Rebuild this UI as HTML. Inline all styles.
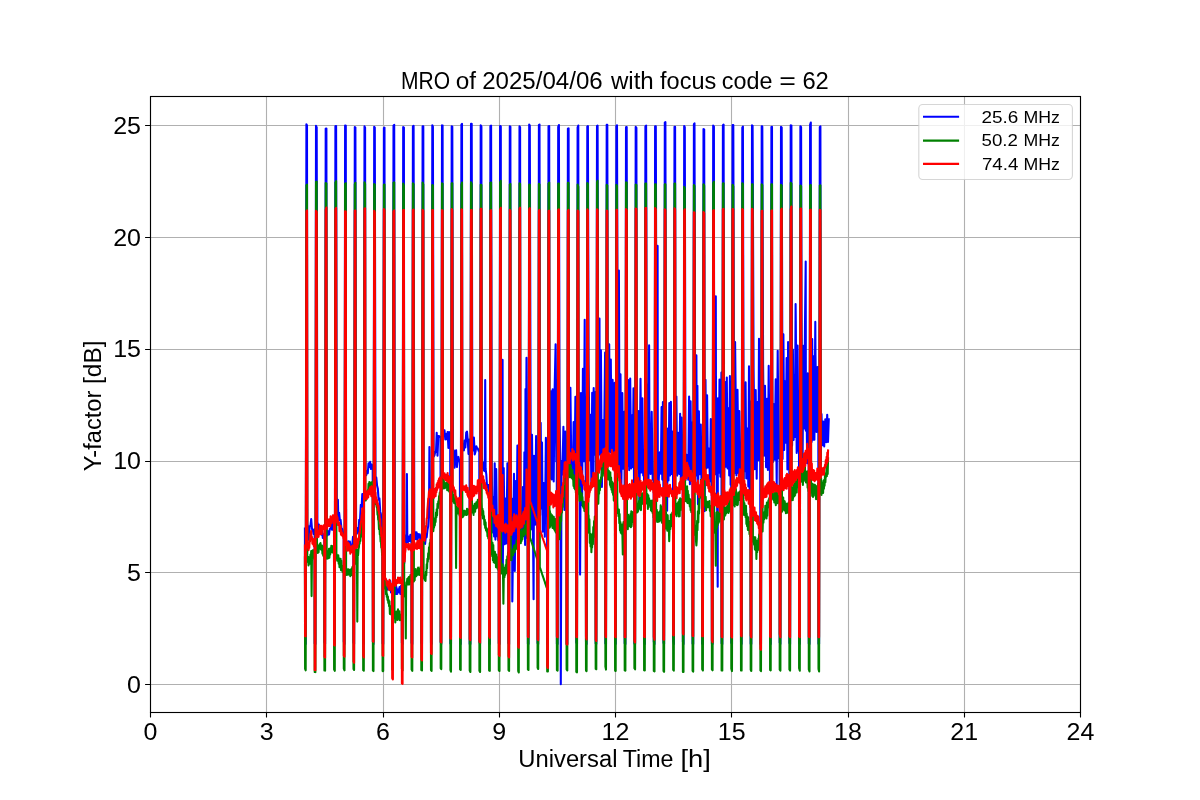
<!DOCTYPE html>
<html><head><meta charset="utf-8"><title>MRO Y-factor</title>
<style>html,body{margin:0;padding:0;background:#fff;}svg{display:block;will-change:transform;}text{font-family:"Liberation Sans", sans-serif;}</style>
</head><body><svg width="1200" height="800" viewBox="0 0 1200 800" font-family='"Liberation Sans", sans-serif' fill="#000"><path d="M150.5 96.5V712.5M266.5 96.5V712.5M383.5 96.5V712.5M499.5 96.5V712.5M615.5 96.5V712.5M731.5 96.5V712.5M848.5 96.5V712.5M964.5 96.5V712.5M1080.5 96.5V712.5M150.5 684.5H1080.5M150.5 572.5H1080.5M150.5 461.5H1080.5M150.5 349.5H1080.5M150.5 237.5H1080.5M150.5 125.5H1080.5" stroke="#b0b0b0" stroke-width="1.11" fill="none"/><path d="M304.9 527.4L305.1 643.7L305.7 643.9L306.4 124.2L307.0 125.4L307.3 523.9L308.1 528.1L308.9 539.9L309.6 526.2L310.4 525.8L311.2 519.1L312.0 529.2L312.7 529.4L313.5 533.9L314.3 529.2L314.6 529.2L314.7 643.5L315.4 643.9L316.0 125.8L316.7 127.5L317.4 522.7L318.2 530.3L318.9 524.5L319.7 533.1L320.5 527.3L321.3 534.6L322.0 531.0L322.8 538.0L323.6 534.2L324.3 534.2L324.4 642.2L325.1 643.9L325.7 128.8L326.4 128.5L326.7 532.1L327.5 535.4L328.2 531.3L329.0 534.5L329.8 529.2L330.6 528.6L331.3 524.4L332.1 529.8L332.9 521.8L333.7 521.5L334.0 521.5L334.1 643.7L334.8 643.9L335.4 126.3L336.1 126.0L336.8 518.1L337.5 512.6L337.9 499.7L338.3 520.9L339.1 512.7L339.9 520.0L340.6 519.9L341.4 527.9L342.2 529.0L343.0 535.8L343.7 535.8L343.8 641.6L344.5 643.9L345.1 125.5L345.8 125.8L346.1 543.4L346.8 541.6L347.6 544.8L348.4 541.2L349.2 547.0L349.9 541.6L350.7 548.3L351.5 545.2L352.3 544.5L353.0 536.8L353.3 536.8L353.5 642.6L354.1 643.9L354.8 127.1L355.4 127.6L356.1 531.1L356.9 533.7L357.7 528.1L358.5 532.5L359.2 519.7L360.0 520.3L360.8 504.9L361.6 507.0L362.3 494.1L363.0 494.1L363.2 643.6L363.8 643.9L364.5 126.4L365.1 127.7L365.4 472.1L366.2 475.3L367.0 471.1L367.8 473.3L368.5 463.2L369.3 466.9L370.1 461.9L370.9 469.0L371.6 464.5L372.4 467.1L372.7 467.1L372.9 641.7L373.5 643.9L374.2 126.8L374.8 127.7L375.5 479.6L376.3 477.5L377.1 485.8L377.8 488.4L378.6 499.6L379.4 498.3L380.2 511.4L380.9 514.1L381.7 528.2L382.4 528.2L382.6 643.6L383.2 643.9L383.9 128.1L384.5 127.6L384.8 581.5L385.6 579.0L386.4 588.0L387.1 581.2L387.9 589.6L388.7 583.4L389.5 589.1L390.2 580.9L391.0 592.5L391.8 586.5L392.1 586.5L392.2 642.7L392.9 643.9L393.5 125.7L394.2 124.8L394.9 585.3L395.7 593.9L396.4 587.0L397.2 594.0L398.0 589.5L398.8 592.2L399.5 587.1L400.3 593.9L401.1 585.7L401.8 585.7L401.9 642.7L402.6 643.9L403.2 127.1L403.9 127.6L404.2 563.4L405.0 552.8L405.7 535.4L406.5 543.4L406.9 474.0L407.3 537.4L408.1 542.0L408.8 536.5L409.6 540.9L410.4 534.9L411.2 542.0L411.5 542.0L411.6 643.1L412.3 643.9L412.9 126.3L413.6 125.8L414.3 537.5L415.0 532.1L415.8 539.2L416.6 532.3L417.4 539.7L418.1 534.0L418.9 537.7L419.7 534.2L420.5 538.7L421.2 538.7L421.3 642.9L422.0 643.9L422.6 126.2L423.3 126.2L423.6 538.4L424.3 534.9L425.1 543.9L425.9 536.2L426.7 537.1L427.4 530.2L428.2 526.1L429.0 513.1L429.4 447.1L429.8 511.1L430.5 494.3L430.8 494.3L431.0 642.4L431.6 643.9L432.3 125.2L432.9 126.6L433.6 456.6L434.4 455.4L435.2 452.1L436.0 451.9L436.7 432.7L437.5 455.7L438.3 436.1L439.1 436.0L439.8 437.1L440.5 437.1L440.7 642.4L441.3 643.9L442.0 125.4L442.6 125.6L442.9 427.9L443.7 435.5L444.5 430.4L445.3 439.4L446.0 434.0L446.8 439.3L447.6 432.0L448.4 447.9L449.1 432.1L449.9 442.2L450.2 442.2L450.4 643.4L451.0 643.9L451.7 126.3L452.3 126.7L453.0 454.7L453.8 450.3L454.6 467.7L455.3 452.3L456.1 450.2L456.9 467.0L457.7 460.6L458.4 456.9L459.2 461.3L459.9 461.3L460.1 641.1L460.7 643.9L461.4 124.7L462.0 123.9L462.3 449.0L463.1 446.9L463.9 450.4L464.6 440.5L465.4 447.5L466.2 432.7L467.0 431.5L467.7 439.4L468.5 453.9L469.3 439.6L469.6 439.6L469.7 643.9L470.4 643.9L471.0 123.7L471.7 123.7L472.4 444.6L473.2 450.5L473.9 437.6L474.7 454.4L475.5 451.8L476.3 446.2L477.0 448.2L477.8 448.5L478.6 450.8L479.3 450.8L479.4 641.9L480.1 643.9L480.7 125.4L481.4 126.5L481.7 453.9L482.5 467.9L483.2 462.6L484.0 470.7L484.8 471.2L485.2 380.0L485.6 468.9L486.3 474.3L487.1 487.9L488.1 485.1L489.0 485.1L489.1 643.7L489.8 643.9L490.4 126.1L491.1 125.6L491.7 466.3L492.7 532.4L493.4 497.4L494.1 536.4L494.7 463.2L495.4 539.6L496.2 469.1L497.0 536.2L497.6 515.5L498.2 540.6L498.7 540.6L498.8 643.2L499.5 643.9L500.1 126.0L500.8 126.4L500.9 510.9L501.5 541.7L502.2 456.0L502.6 359.9L502.8 566.8L503.7 468.0L504.7 544.3L505.5 498.6L506.4 543.5L507.4 463.3L508.3 463.3L508.5 643.2L509.1 643.9L509.8 126.2L510.4 126.8L510.5 492.8L511.2 544.5L512.1 498.9L512.3 601.5L513.1 541.5L514.0 473.7L514.8 571.0L515.7 481.0L516.5 547.5L517.4 445.5L518.0 445.5L518.2 643.8L518.8 643.9L519.5 126.4L520.1 127.4L520.4 537.7L521.2 508.4L522.0 537.0L522.9 487.1L523.7 536.3L524.4 452.2L525.1 544.9L525.5 389.0L525.9 391.2L526.2 427.3L526.5 357.7L527.2 538.2L527.7 538.2L527.9 643.8L528.5 643.9L529.2 124.5L529.8 125.7L530.9 529.6L532.0 434.8L533.0 531.0L533.6 599.2L534.0 455.8L535.1 524.8L536.1 436.1L537.2 528.2L537.4 528.2L537.6 643.1L538.2 643.9L538.9 125.0L539.5 124.5L540.1 515.3L540.7 422.9L541.3 508.4L542.0 442.5L542.7 531.8L543.8 483.0L544.8 536.8L545.9 437.7L547.0 489.6L547.1 489.6L547.2 643.7L547.9 643.9L548.5 126.2L549.2 126.1L549.4 465.9L550.2 478.4L551.1 391.2L551.8 479.5L552.2 395.7L552.7 389.2L553.7 481.5L554.6 390.8L555.6 344.3L556.3 461.6L556.8 461.6L556.9 643.9L557.6 643.9L558.2 126.9L558.9 125.0L559.5 413.6L560.5 476.4L560.8 684.2L561.5 461.4L562.4 474.4L563.4 426.8L564.4 510.0L565.3 431.5L566.2 485.0L566.5 485.0L566.6 643.9L567.3 643.9L567.9 128.7L568.6 128.3L568.8 399.6L569.4 466.7L570.4 387.7L571.3 466.1L572.0 454.5L572.8 478.0L573.6 422.1L574.4 480.9L575.4 396.8L576.2 396.8L576.3 642.4L577.0 643.9L577.6 127.4L578.3 125.5L578.5 465.5L579.2 393.1L580.0 483.5L580.1 574.6L581.0 393.1L582.1 505.1L582.9 368.7L583.8 461.2L584.7 319.7L584.8 393.6L585.8 478.5L585.8 478.5L586.0 641.6L586.6 643.9L587.3 126.6L587.9 126.2L588.6 364.6L589.6 460.1L590.5 414.9L591.4 487.3L592.2 392.7L593.0 478.2L593.7 388.0L594.4 454.6L595.4 392.1L595.5 392.1L595.7 643.4L596.3 643.9L597.0 126.1L597.6 125.6L598.3 458.8L599.1 399.0L599.5 318.5L599.8 454.4L600.9 350.2L601.9 486.9L603.0 420.1L604.0 450.8L605.1 352.6L605.2 352.6L605.4 643.5L606.0 643.9L606.7 124.9L607.3 124.8L607.9 457.9L608.9 378.9L609.2 344.3L609.9 452.0L610.8 359.5L611.6 454.2L612.6 379.8L613.7 457.0L614.7 382.7L614.9 382.7L615.1 642.4L615.7 643.9L616.4 126.0L617.0 125.3L617.9 467.7L618.7 393.9L618.9 270.5L619.6 472.6L620.5 374.2L621.3 491.6L622.3 393.1L623.2 468.7L624.2 411.8L624.6 411.8L624.7 643.2L625.4 643.9L626.0 127.3L626.7 127.0L627.2 466.4L628.2 380.1L629.2 470.1L630.2 378.5L631.2 468.4L632.0 415.3L632.8 467.0L633.5 388.3L634.2 509.6L634.3 509.6L634.4 643.5L635.1 643.9L635.7 126.9L636.4 127.8L636.7 392.4L637.5 468.7L638.5 411.0L639.4 508.5L640.5 378.8L641.5 472.4L642.4 398.3L643.2 475.5L644.0 475.5L644.1 643.5L644.8 643.9L645.4 126.5L646.1 125.6L646.9 478.7L647.7 384.3L648.5 483.2L649.1 345.4L649.5 447.4L650.6 474.0L651.7 411.8L652.7 479.8L653.7 479.8L653.8 641.6L654.5 643.9L655.1 126.2L655.8 126.3L656.8 486.2L657.6 245.9L657.8 451.6L658.7 482.1L659.8 452.3L660.8 473.7L661.6 407.1L662.3 479.6L662.9 402.1L663.3 402.1L663.5 642.8L664.1 643.9L664.8 122.6L665.4 122.2L666.0 457.6L667.1 510.7L667.8 428.6L668.5 480.5L669.3 403.0L670.1 475.4L670.9 401.7L671.7 473.9L672.8 431.5L673.0 431.5L673.2 640.8L673.8 643.9L674.5 126.8L675.1 126.9L675.6 472.4L676.4 396.5L677.2 475.6L678.2 432.8L679.3 473.9L680.1 413.7L680.9 485.6L681.5 417.5L682.1 469.7L682.7 469.7L682.9 641.8L683.5 643.9L684.2 126.0L684.8 127.3L685.5 480.3L686.2 454.5L686.8 469.7L687.5 454.8L688.2 479.6L689.1 396.5L689.9 484.2L690.6 401.2L691.3 474.2L692.2 422.6L692.4 422.6L692.6 643.7L693.2 643.9L693.9 124.1L694.5 123.4L695.3 489.2L696.0 408.6L696.4 355.4L696.8 475.4L697.4 385.8L698.0 504.3L698.9 411.2L699.7 474.3L700.8 424.5L701.8 508.6L702.1 508.6L702.2 643.8L702.9 643.9L703.5 129.1L704.2 129.4L704.7 511.1L705.5 379.8L706.3 468.5L707.1 395.3L707.8 467.5L708.9 448.6L710.0 481.5L710.8 419.0L711.7 492.8L711.8 492.8L711.9 643.8L712.6 643.9L713.2 125.5L713.9 126.5L714.1 384.8L715.1 474.2L715.8 296.2L716.0 411.5L717.0 481.2L717.7 586.7L717.9 398.3L718.7 472.7L719.5 379.6L720.4 476.8L721.4 372.6L721.5 372.6L721.6 643.2L722.3 643.9L722.9 125.2L723.6 124.6L724.2 498.1L725.1 382.1L726.0 466.7L726.8 377.5L727.6 468.4L728.4 408.3L729.2 475.5L729.9 376.1L730.6 484.7L731.2 455.3L731.2 455.3L731.3 642.7L732.0 643.9L732.6 125.1L733.3 125.1L734.0 411.6L734.9 473.1L735.1 342.0L735.7 396.0L736.4 475.5L737.5 389.7L738.5 473.5L739.3 411.1L740.2 470.3L740.8 470.3L741.0 642.4L741.6 643.9L742.3 127.7L742.9 126.5L743.7 479.0L744.4 405.8L745.0 471.3L745.6 382.4L746.3 478.4L747.3 428.5L748.3 486.4L749.0 366.4L749.7 500.7L750.4 401.7L750.5 401.7L750.7 643.8L751.3 643.9L752.0 125.4L752.6 125.8L753.6 369.5L754.7 469.3L755.7 390.0L756.7 478.8L757.6 402.1L758.4 460.1L759.0 338.7L759.5 406.5L760.2 406.5L760.4 643.9L761.0 643.9L761.7 126.2L762.3 126.5L763.1 364.9L764.0 455.7L765.0 385.8L766.1 467.3L767.0 398.9L767.9 470.0L768.7 365.9L769.5 462.8L769.9 462.8L770.1 641.5L770.7 643.9L771.4 127.0L772.0 126.8L772.2 371.7L772.9 462.0L773.8 404.1L774.7 459.8L775.7 379.4L776.7 484.5L777.7 350.8L778.7 458.2L779.6 458.2L779.7 642.5L780.4 643.9L781.0 126.9L781.7 127.5L782.6 458.9L783.4 334.4L784.2 449.9L785.0 381.4L785.8 442.7L786.6 358.1L787.4 469.4L788.1 342.0L788.6 451.7L789.3 451.7L789.4 643.1L790.1 643.9L790.7 125.4L791.4 125.6L792.1 445.6L792.9 349.5L793.6 439.9L794.3 375.0L794.9 437.0L795.6 304.0L795.8 322.4L796.7 453.0L797.6 345.6L798.4 450.8L799.0 450.8L799.1 643.6L799.8 643.9L800.4 126.2L801.1 127.2L801.5 310.8L802.5 479.3L803.3 345.7L804.2 428.5L805.0 324.3L805.7 261.5L805.9 430.7L806.5 388.1L807.1 463.2L807.8 373.4L808.5 445.4L808.7 445.4L808.8 643.5L809.5 643.9L810.1 124.8L810.8 122.5L810.9 359.7L811.6 442.0L812.2 339.1L812.9 439.7L813.6 356.2L814.4 439.8L815.3 321.9L815.5 355.3L816.5 432.0L817.6 367.0L818.3 367.0L818.5 643.8L819.1 643.9L819.8 127.1L820.4 126.3L820.8 464.1L821.5 414.1L822.3 445.2L823.2 421.5L824.2 446.5L825.3 419.4L826.3 442.2L827.2 414.7L828.0 441.9L828.8 418.1" fill="none" stroke="#0000ff" stroke-width="2.08" stroke-linejoin="round" stroke-linecap="butt"/><path d="M304.9 556.3L305.1 668.9L305.7 670.3L306.4 185.3L307.0 184.6L307.3 557.6L307.7 562.0L308.1 556.7L308.5 565.5L308.9 560.1L309.3 563.0L309.6 557.1L310.0 563.6L310.4 554.5L310.8 560.1L311.2 551.1L311.6 596.1L312.0 554.2L312.4 559.0L312.7 550.2L313.1 557.1L313.5 550.3L313.9 557.1L314.3 551.6L314.6 551.6L314.7 671.9L315.4 672.1L316.0 182.0L316.7 181.7L317.0 550.6L317.4 546.9L317.8 552.9L318.2 545.5L318.6 552.2L318.9 547.4L319.3 548.0L319.7 544.1L320.1 546.0L320.5 543.1L320.9 549.4L321.3 545.5L321.7 550.0L322.0 545.5L322.4 553.6L322.8 548.7L323.2 555.6L323.6 547.0L324.0 554.4L324.3 554.4L324.4 670.4L325.1 670.6L325.7 183.1L326.4 183.4L326.7 553.6L327.1 558.6L327.5 551.1L327.9 557.0L328.2 552.5L328.6 558.1L329.0 548.8L329.4 557.7L329.8 550.6L330.2 554.5L330.6 548.0L331.0 551.2L331.3 545.7L331.7 552.3L332.1 546.0L332.5 552.3L332.9 548.9L333.3 552.8L333.7 546.1L334.0 546.1L334.1 669.5L334.8 670.8L335.4 182.4L336.1 181.2L336.4 556.4L336.8 554.5L337.2 560.7L337.5 556.2L337.9 559.6L338.3 555.2L338.7 563.6L339.1 558.2L339.5 567.3L339.9 560.5L340.3 566.6L340.6 558.7L341.0 570.3L341.4 560.9L341.8 569.7L342.2 565.8L342.6 571.9L343.0 566.4L343.4 571.4L343.7 571.4L343.8 668.6L344.5 670.4L345.1 183.8L345.8 183.2L346.1 567.2L346.5 574.9L346.8 569.0L347.2 574.4L347.6 571.7L348.0 574.7L348.4 569.3L348.8 571.8L349.2 573.2L349.6 574.7L349.9 569.8L350.3 576.1L350.7 569.7L351.1 572.2L351.5 568.9L351.9 574.9L352.3 567.0L352.7 572.0L353.0 566.2L353.3 566.2L353.5 669.0L354.1 670.0L354.8 184.1L355.4 182.8L355.8 563.4L356.1 557.5L356.5 564.4L356.9 554.6L357.3 621.6L357.7 549.5L358.1 555.2L358.5 548.9L358.9 547.3L359.2 542.8L359.6 543.6L360.0 536.4L360.4 541.0L360.8 527.5L361.2 536.8L361.6 524.6L362.0 527.5L362.3 517.2L362.7 519.4L363.0 519.4L363.2 670.2L363.8 670.6L364.5 182.4L365.1 183.9L365.4 497.0L365.8 500.4L366.2 492.2L366.6 498.8L367.0 491.5L367.4 495.0L367.8 490.2L368.2 491.8L368.5 483.9L368.9 491.9L369.3 482.1L369.7 490.7L370.1 483.8L370.5 488.6L370.9 482.6L371.3 488.4L371.6 482.7L372.0 489.0L372.4 481.9L372.7 481.9L372.9 670.5L373.5 671.1L374.2 184.1L374.8 184.8L375.1 501.7L375.5 499.2L375.9 504.3L376.3 504.4L376.7 507.1L377.1 507.5L377.5 514.8L377.8 513.0L378.2 519.7L378.6 520.6L379.0 529.3L379.4 525.3L379.8 534.4L380.2 534.6L380.6 541.7L380.9 540.3L381.3 547.6L381.7 547.0L382.1 555.2L382.4 555.2L382.6 671.1L383.2 671.1L383.9 184.7L384.5 184.6L384.8 577.6L385.2 588.7L385.6 585.6L386.0 594.2L386.4 589.8L386.8 596.9L387.1 594.3L387.5 600.0L387.9 596.5L388.3 602.9L388.7 600.1L389.1 606.3L389.5 601.4L389.9 613.9L390.2 606.0L390.6 612.3L391.0 608.6L391.4 614.8L391.8 609.3L392.1 609.3L392.2 669.6L392.9 669.8L393.5 182.7L394.2 182.4L394.5 618.6L394.9 612.7L395.3 622.4L395.7 612.2L396.1 619.8L396.4 611.6L396.8 617.5L397.2 612.0L397.6 620.0L398.0 609.4L398.4 618.7L398.8 612.8L399.2 617.2L399.5 611.4L399.9 620.2L400.3 614.6L400.7 619.1L401.1 616.4L401.5 620.3L401.8 620.3L401.9 668.8L402.6 670.6L403.2 183.5L403.9 185.6L404.2 594.6L404.6 596.4L405.0 587.0L405.4 590.2L405.8 638.4L406.1 588.4L406.5 582.4L406.9 582.6L407.3 578.7L407.7 584.4L408.1 578.1L408.5 583.5L408.8 577.0L409.2 584.4L409.6 577.0L410.0 581.5L410.4 575.0L410.8 579.5L411.2 577.2L411.5 577.2L411.6 669.5L412.3 670.9L412.9 183.3L413.6 184.2L413.9 581.5L414.3 574.4L414.7 580.3L415.0 570.0L415.4 576.8L415.8 569.1L416.2 576.2L416.6 574.0L417.0 575.2L417.4 571.4L417.8 574.4L418.1 567.6L418.5 574.3L418.9 568.6L419.3 575.0L419.7 569.6L420.1 573.1L420.5 567.0L420.9 573.6L421.2 573.6L421.3 670.0L422.0 670.4L422.6 182.6L423.3 184.3L423.6 574.0L424.0 578.5L424.3 576.7L424.7 579.9L425.1 576.8L425.5 580.9L425.9 571.7L426.3 575.3L426.7 564.2L427.1 568.2L427.4 558.7L427.8 561.7L428.2 553.3L428.6 559.0L429.0 547.2L429.4 551.8L429.8 543.1L430.2 546.6L430.5 539.5L430.8 539.5L431.0 670.2L431.6 671.0L432.3 185.0L432.9 185.6L433.3 531.1L433.6 526.7L434.0 527.6L434.4 522.0L434.8 525.5L435.2 518.4L435.6 521.9L436.0 512.6L436.4 517.2L436.7 509.3L437.1 515.2L437.5 503.8L437.9 508.1L438.3 501.2L438.7 503.5L439.1 496.1L439.5 496.2L439.8 492.5L440.2 494.3L440.5 494.3L440.7 668.3L441.3 669.1L442.0 183.4L442.6 183.8L442.9 481.4L443.3 488.5L443.7 479.1L444.1 485.5L444.5 482.3L444.9 488.2L445.3 483.1L445.7 486.5L446.0 485.2L446.4 485.9L446.8 482.5L447.2 490.3L447.6 483.7L448.0 488.8L448.4 482.1L448.8 490.9L449.1 483.7L449.5 491.9L449.9 488.8L450.2 488.8L450.4 669.9L451.0 671.7L451.7 183.2L452.3 183.3L452.6 500.9L453.0 494.6L453.4 501.6L453.8 496.6L454.2 503.2L454.6 500.9L455.0 503.4L455.3 499.3L455.7 507.1L456.1 567.9L456.5 509.6L456.9 507.1L457.3 511.2L457.7 508.6L458.1 513.5L458.4 507.9L458.8 512.5L459.2 512.1L459.6 515.9L459.9 515.9L460.1 669.5L460.7 669.9L461.4 184.7L462.0 182.5L462.3 510.9L462.7 517.2L463.1 512.7L463.5 516.0L463.9 510.8L464.3 514.6L464.6 510.7L465.0 514.6L465.4 511.2L465.8 511.7L466.2 512.8L466.6 515.0L467.0 508.9L467.4 514.5L467.7 509.3L468.1 512.2L468.5 509.6L468.9 513.0L469.3 510.0L469.6 510.0L469.7 670.6L470.4 672.0L471.0 182.2L471.7 183.8L472.0 512.2L472.4 509.5L472.8 512.6L473.2 506.2L473.6 514.9L473.9 505.6L474.3 510.1L474.7 503.7L475.1 511.8L475.5 503.8L475.9 508.5L476.3 502.3L476.7 508.2L477.0 502.7L477.4 503.1L477.8 499.9L478.2 506.8L478.6 499.8L479.0 504.2L479.3 504.2L479.4 670.8L480.1 672.0L480.7 184.7L481.4 185.0L481.7 502.3L482.1 514.8L482.5 508.9L482.9 518.5L483.2 511.1L483.6 518.1L484.0 516.1L484.4 524.6L484.8 519.7L485.2 527.9L485.6 522.3L486.0 530.1L486.3 527.7L486.7 531.7L487.1 529.0L487.5 536.1L487.9 533.0L488.3 538.4L488.7 536.2L489.0 536.2L489.1 670.6L489.8 670.9L490.4 182.8L491.1 182.5L491.4 554.1L491.8 544.6L492.2 556.3L492.5 542.7L492.9 560.2L493.3 545.0L493.7 562.3L494.1 552.5L494.5 562.8L494.9 551.8L495.3 563.2L495.6 555.1L496.0 567.3L496.4 554.5L496.8 565.6L497.2 557.5L497.6 568.7L498.0 557.4L498.4 570.3L498.7 570.3L498.8 670.2L499.5 671.0L500.1 182.4L500.8 180.8L501.1 564.1L501.5 573.4L501.8 567.3L502.2 572.1L502.6 564.2L503.0 573.3L503.4 603.7L503.8 575.3L504.2 567.8L504.6 576.9L504.9 568.4L505.3 574.8L505.7 565.0L506.1 573.2L506.5 559.9L506.9 571.7L507.3 556.3L507.7 566.7L508.0 552.5L508.3 552.5L508.5 670.2L509.1 671.0L509.8 184.5L510.4 184.0L510.8 560.0L511.1 551.8L511.5 560.3L511.9 552.4L512.3 555.1L512.7 550.0L513.1 555.3L513.5 548.6L513.9 551.7L514.2 545.6L514.6 552.2L515.0 545.8L515.4 549.5L515.8 544.5L516.2 548.5L516.6 540.7L517.0 548.6L517.3 540.1L517.7 546.5L518.0 546.5L518.2 671.1L518.8 672.5L519.5 183.4L520.1 184.0L520.4 531.3L520.8 543.2L521.2 531.9L521.6 541.0L522.0 531.9L522.4 539.1L522.8 529.6L523.2 534.6L523.5 530.1L523.9 535.6L524.3 528.5L524.7 534.5L525.1 524.8L525.5 531.5L525.9 525.3L526.3 532.9L526.6 521.5L527.0 536.0L527.4 527.8L527.7 527.8L527.9 669.5L528.5 670.0L529.2 184.6L529.8 184.8L530.1 537.8L530.5 538.9L530.9 540.1L531.3 541.3L531.7 542.4L532.1 543.6L532.5 544.8L532.8 545.9L533.2 547.1L533.6 548.3L534.0 549.5L534.4 550.6L534.8 551.8L535.2 553.0L535.6 554.1L535.9 555.3L536.3 556.5L536.7 557.6L537.1 558.8L537.4 558.8L537.6 667.8L538.2 669.0L538.9 183.7L539.5 184.6L539.8 567.0L540.2 568.2L540.6 569.3L541.0 570.5L541.4 571.7L541.8 572.8L542.1 574.0L542.5 575.2L542.9 576.3L543.3 577.5L543.7 578.7L544.1 579.9L544.5 581.0L544.9 582.2L545.2 583.4L545.6 584.5L546.0 585.7L546.4 586.9L546.8 588.0L547.1 588.0L547.2 671.5L547.9 671.5L548.5 183.5L549.2 182.5L549.5 527.7L549.9 511.0L550.3 526.6L550.7 513.6L551.1 525.0L551.4 515.0L551.8 525.0L552.2 515.4L552.6 528.0L553.0 517.5L553.4 525.4L553.8 516.9L554.2 529.5L554.5 519.8L554.9 530.6L555.3 519.0L555.7 532.1L556.1 521.9L556.5 533.6L556.8 533.6L556.9 670.1L557.6 670.6L558.2 183.5L558.9 183.5L559.2 526.7L559.6 539.1L560.0 522.1L560.4 530.0L560.7 514.2L561.1 521.3L561.5 508.4L561.9 512.7L562.3 499.8L562.7 507.0L563.1 493.7L563.5 498.5L563.8 485.7L564.2 490.0L564.6 478.1L565.0 487.0L565.4 477.3L565.8 483.8L566.2 474.9L566.5 474.9L566.6 669.5L567.3 670.5L567.9 182.7L568.6 183.2L568.9 474.7L569.3 468.5L569.7 477.2L570.0 467.6L570.4 473.6L570.8 465.3L571.2 477.4L571.6 470.3L572.0 478.2L572.4 470.1L572.8 479.4L573.1 476.1L573.5 485.9L573.9 475.2L574.3 488.1L574.7 479.5L575.1 489.5L575.5 479.4L575.9 493.0L576.2 493.0L576.3 671.9L577.0 672.3L577.6 184.5L578.3 186.7L578.6 487.2L579.0 493.6L579.3 490.0L579.7 500.9L580.1 487.7L580.5 500.0L580.9 495.5L581.3 499.7L581.7 493.2L582.1 500.2L582.4 497.0L582.8 506.4L583.2 502.1L583.6 508.0L584.0 501.9L584.4 511.0L584.8 503.4L585.2 511.4L585.5 508.1L585.8 508.1L586.0 670.6L586.6 671.1L587.3 183.1L587.9 184.1L588.3 525.1L588.6 515.3L589.0 532.9L589.4 519.4L589.8 543.0L590.2 533.8L590.6 546.4L591.0 534.7L591.4 552.3L591.7 541.3L592.1 547.4L592.5 533.5L592.9 544.2L593.3 527.0L593.7 536.6L594.1 521.1L594.5 530.1L594.8 516.6L595.2 525.5L595.5 525.5L595.7 668.9L596.3 669.2L597.0 182.1L597.6 180.8L597.9 493.9L598.3 503.6L598.7 488.8L599.1 493.7L599.5 480.9L599.9 490.1L600.3 479.8L600.7 482.5L601.0 477.2L601.4 479.1L601.8 470.0L602.2 476.8L602.6 466.2L603.0 471.8L603.4 461.6L603.8 470.2L604.1 463.4L604.5 475.8L604.9 461.6L605.2 461.6L605.4 666.5L606.0 669.6L606.7 184.9L607.3 185.7L607.6 479.1L608.0 470.1L608.4 478.8L608.8 470.7L609.2 479.9L609.6 472.0L610.0 485.0L610.3 472.3L610.7 487.0L611.1 477.5L611.5 489.8L611.9 481.6L612.3 492.4L612.7 482.5L613.1 494.9L613.4 483.9L613.8 500.6L614.2 485.8L614.6 500.6L614.9 500.6L615.1 670.8L615.7 671.0L616.4 184.9L617.0 186.0L617.3 502.0L617.7 512.9L618.1 509.9L618.5 516.3L618.9 509.5L619.3 523.1L619.6 514.1L620.0 530.5L620.4 522.0L620.8 532.7L621.2 527.1L621.6 533.8L622.0 524.5L622.4 534.7L622.8 554.5L623.1 534.9L623.5 522.0L623.9 530.7L624.3 523.9L624.6 523.9L624.7 670.4L625.4 670.7L626.0 182.4L626.7 182.6L627.0 528.0L627.4 520.9L627.8 529.1L628.2 514.7L628.6 525.2L628.9 517.3L629.3 526.2L629.7 516.3L630.1 524.6L630.5 514.1L630.9 527.3L631.3 511.2L631.7 525.9L632.0 511.8L632.4 522.3L632.8 512.5L633.2 518.1L633.6 512.6L634.0 518.4L634.3 518.4L634.4 668.2L635.1 669.3L635.7 184.6L636.4 184.9L636.7 506.4L637.1 512.4L637.5 504.2L637.9 511.6L638.2 503.5L638.6 509.6L639.0 501.0L639.4 507.8L639.8 498.2L640.2 506.2L640.6 497.3L641.0 510.1L641.3 497.0L641.7 503.6L642.1 493.4L642.5 502.3L642.9 496.8L643.3 503.9L643.7 493.1L644.0 493.1L644.1 670.3L644.8 670.5L645.4 183.6L646.1 183.6L646.4 503.4L646.8 494.9L647.2 502.9L647.5 494.3L647.9 509.0L648.3 495.3L648.7 503.8L649.1 498.4L649.5 505.2L649.9 502.6L650.3 507.1L650.6 500.9L651.0 510.4L651.4 500.8L651.8 511.2L652.2 500.5L652.6 512.9L653.0 503.1L653.4 517.6L653.7 517.6L653.8 670.9L654.5 671.4L655.1 184.3L655.8 184.3L656.1 513.0L656.5 520.7L656.8 509.7L657.2 521.9L657.6 512.0L658.0 521.7L658.4 513.2L658.8 521.6L659.2 512.5L659.6 520.9L659.9 511.4L660.3 518.3L660.7 505.2L661.1 520.1L661.5 506.8L661.9 522.7L662.3 509.3L662.7 522.0L663.0 511.3L663.3 511.3L663.5 671.1L664.1 671.8L664.8 184.4L665.4 184.4L665.8 528.4L666.1 512.7L666.5 528.7L666.9 515.0L667.3 530.7L667.7 515.4L668.1 530.1L668.5 520.8L668.9 529.0L669.2 541.1L669.6 528.2L670.0 520.9L670.4 528.9L670.8 514.5L671.2 526.1L671.6 514.9L672.0 524.5L672.3 512.6L672.7 522.8L673.0 522.8L673.2 669.9L673.8 670.6L674.5 183.5L675.1 183.5L675.4 506.6L675.8 514.4L676.2 503.5L676.6 516.1L677.0 505.6L677.4 513.1L677.8 503.1L678.2 512.8L678.5 501.9L678.9 516.4L679.3 499.8L679.7 516.3L680.1 498.3L680.5 510.3L680.9 498.7L681.3 506.4L681.6 500.4L682.0 506.5L682.4 501.7L682.7 501.7L682.9 672.0L683.5 672.0L684.2 186.9L684.8 188.3L685.1 500.9L685.5 491.4L685.9 501.2L686.3 489.5L686.7 501.8L687.1 486.3L687.5 502.9L687.8 490.7L688.2 503.1L688.6 494.6L689.0 501.1L689.4 499.3L689.8 506.5L690.2 499.2L690.6 510.3L690.9 500.0L691.3 512.2L691.7 503.9L692.1 512.6L692.4 512.6L692.6 670.8L693.2 671.6L693.9 185.0L694.5 186.0L694.8 524.3L695.2 534.6L695.6 525.5L696.0 540.8L696.4 545.5L696.8 539.5L697.1 520.9L697.5 530.3L697.9 511.3L698.3 522.4L698.7 504.4L699.1 513.6L699.5 492.1L699.9 498.4L700.2 488.3L700.6 495.9L701.0 479.9L701.4 493.1L701.8 479.3L702.1 479.3L702.2 669.2L702.9 670.5L703.5 184.2L704.2 185.6L704.5 500.3L704.9 496.2L705.3 506.5L705.7 496.9L706.1 510.3L706.4 502.0L706.8 506.6L707.2 501.8L707.6 507.3L708.0 501.9L708.4 507.2L708.8 503.8L709.2 506.2L709.5 501.1L709.9 510.9L710.3 505.9L710.7 516.1L711.1 510.2L711.5 517.1L711.8 517.1L711.9 669.4L712.6 670.3L713.2 183.2L713.9 181.6L714.2 530.1L714.6 532.6L715.0 525.6L715.4 533.1L715.8 565.7L716.1 528.9L716.5 512.5L716.9 528.4L717.3 511.9L717.7 524.9L718.1 512.6L718.5 523.0L718.8 514.2L719.2 521.7L719.6 512.4L720.0 518.4L720.4 508.3L720.8 518.4L721.2 510.8L721.5 510.8L721.6 670.4L722.3 670.5L722.9 183.4L723.6 183.2L723.9 519.4L724.3 510.3L724.7 516.0L725.0 510.6L725.4 515.0L725.8 507.5L726.2 513.3L726.6 507.0L727.0 512.0L727.4 505.2L727.8 512.1L728.1 501.8L728.5 513.0L728.9 500.2L729.3 511.5L729.7 502.3L730.1 508.6L730.5 498.6L730.9 506.5L731.2 506.5L731.3 668.8L732.0 671.1L732.6 184.7L733.3 186.3L733.6 496.2L734.0 505.0L734.3 494.9L734.7 506.5L735.1 490.2L735.5 503.4L735.9 489.1L736.3 504.0L736.7 492.2L737.1 505.2L737.4 494.1L737.8 504.8L738.2 495.5L738.6 500.3L739.0 492.4L739.4 499.1L739.8 491.6L740.2 500.3L740.5 494.4L740.8 494.4L741.0 670.4L741.6 670.5L742.3 183.2L742.9 184.0L743.3 513.1L743.6 500.5L744.0 515.0L744.4 503.0L744.8 513.1L745.2 508.5L745.6 517.3L746.0 505.9L746.4 524.0L746.7 513.5L747.1 526.2L747.5 516.6L747.9 530.0L748.3 517.3L748.7 529.6L749.1 521.8L749.5 534.3L749.8 527.6L750.2 536.7L750.5 536.7L750.7 669.8L751.3 670.9L752.0 184.2L752.6 184.2L752.9 538.5L753.3 541.7L753.7 536.7L754.1 544.8L754.5 537.4L754.9 549.4L755.3 537.4L755.7 550.2L756.0 540.6L756.4 559.0L756.8 540.9L757.2 552.3L757.6 541.8L758.0 547.0L758.4 538.6L758.8 549.7L759.1 534.3L759.5 544.2L759.9 530.7L760.2 530.7L760.4 670.4L761.0 671.1L761.7 184.3L762.3 185.2L762.6 531.5L763.0 515.1L763.4 522.6L763.8 514.6L764.2 519.3L764.6 512.0L765.0 515.5L765.3 505.9L765.7 517.3L766.1 507.1L766.5 518.4L766.9 502.5L767.3 515.7L767.7 503.8L768.1 506.5L768.4 500.3L768.8 507.1L769.2 498.3L769.6 504.2L769.9 504.2L770.1 669.9L770.7 670.4L771.4 184.4L772.0 184.3L772.3 491.9L772.7 498.7L773.1 495.9L773.5 500.0L773.9 494.4L774.3 502.5L774.6 493.0L775.0 501.3L775.4 491.2L775.8 505.2L776.2 490.2L776.6 498.8L777.0 492.9L777.4 503.1L777.7 494.1L778.1 500.6L778.5 493.6L778.9 501.4L779.3 494.0L779.6 494.0L779.7 669.7L780.4 670.6L781.0 184.8L781.7 185.6L782.0 511.6L782.4 497.9L782.8 508.3L783.2 497.5L783.6 509.2L783.9 501.0L784.3 510.5L784.7 501.2L785.1 509.9L785.5 503.2L785.9 513.3L786.3 503.7L786.7 511.4L787.0 503.8L787.4 512.8L787.8 504.8L788.2 510.1L788.6 502.5L789.0 510.1L789.3 510.1L789.4 669.4L790.1 670.6L790.7 182.9L791.4 183.3L791.7 494.8L792.1 500.2L792.5 491.6L792.9 499.9L793.2 487.9L793.6 496.7L794.0 484.7L794.4 496.2L794.8 482.4L795.2 494.9L795.6 479.7L796.0 488.0L796.3 481.7L796.7 492.5L797.1 479.7L797.5 487.2L797.9 477.1L798.3 486.7L798.7 478.7L799.0 478.7L799.1 668.2L799.8 670.7L800.4 185.5L801.1 186.3L801.4 481.5L801.8 470.9L802.2 481.9L802.5 471.3L802.9 485.0L803.3 462.8L803.7 478.5L804.1 464.4L804.5 479.8L804.9 465.0L805.3 481.1L805.6 473.7L806.0 482.4L806.4 472.1L806.8 482.6L807.2 471.4L807.6 487.8L808.0 480.6L808.4 491.3L808.7 491.3L808.8 669.4L809.5 671.4L810.1 185.4L810.8 185.0L811.1 482.8L811.5 492.5L811.8 485.0L812.2 496.0L812.6 483.7L813.0 496.9L813.4 486.0L813.8 495.6L814.2 484.8L814.6 492.1L814.9 484.7L815.3 492.5L815.7 485.8L816.1 499.3L816.5 486.6L816.9 498.3L817.3 486.4L817.7 497.2L818.0 483.8L818.3 483.8L818.5 668.9L819.1 671.5L819.8 185.6L820.4 185.4L820.8 492.9L821.1 478.4L821.5 495.0L821.9 482.7L822.3 490.8L822.7 482.5L823.1 493.0L823.5 480.8L823.9 488.8L824.2 479.7L824.6 485.7L825.0 474.6L825.4 482.3L825.8 473.3L826.2 476.8L826.6 465.8L827.0 475.9L827.3 459.5L827.7 474.0L828.1 457.3" fill="none" stroke="#008000" stroke-width="2.08" stroke-linejoin="round" stroke-linecap="butt"/><path d="M304.9 544.5L305.1 636.2L305.7 636.3L306.4 211.1L307.0 210.3L307.3 539.7L307.7 547.8L308.1 544.7L308.5 550.2L308.9 547.0L309.3 547.9L309.6 540.8L310.0 541.5L310.4 534.2L310.8 533.2L311.2 530.9L311.6 539.0L312.0 536.9L312.4 543.7L312.7 538.9L313.1 544.4L313.5 539.6L313.9 546.3L314.3 539.0L314.6 539.0L314.7 669.9L315.4 670.1L316.0 210.9L316.7 211.9L317.0 536.9L317.4 535.1L317.8 537.3L318.2 533.1L318.6 536.6L318.9 530.5L319.3 531.8L319.7 525.6L320.1 534.1L320.5 526.5L320.9 531.4L321.3 525.8L321.7 534.2L322.0 527.4L322.4 529.4L322.8 526.3L323.2 528.5L323.6 525.4L324.0 528.3L324.3 528.3L324.4 656.7L325.1 657.4L325.7 209.7L326.4 207.5L326.7 523.2L327.1 528.8L327.5 520.4L327.9 524.0L328.2 520.7L328.6 526.0L329.0 519.3L329.4 522.5L329.8 520.7L330.2 526.2L330.6 516.3L331.0 522.1L331.3 517.0L331.7 523.2L332.1 517.5L332.5 520.5L332.9 515.4L333.3 520.6L333.7 515.5L334.0 515.5L334.1 645.1L334.8 645.5L335.4 209.1L336.1 207.9L336.4 518.3L336.8 515.7L337.2 522.8L337.5 517.2L337.9 525.0L338.3 521.4L338.7 524.7L339.1 522.5L339.5 531.2L339.9 525.4L340.3 529.9L340.6 525.9L341.0 534.6L341.4 530.5L341.8 535.1L342.2 532.8L342.6 536.0L343.0 534.9L343.4 538.5L343.7 538.5L343.8 655.5L344.5 656.7L345.1 211.2L345.8 211.7L346.1 539.1L346.5 545.2L346.8 542.6L347.2 550.7L347.6 542.4L348.0 548.3L348.4 543.0L348.8 550.5L349.2 544.2L349.6 549.1L349.9 546.3L350.3 553.8L350.7 546.7L351.1 551.6L351.5 547.9L351.9 552.3L352.3 545.6L352.7 549.4L353.0 546.3L353.3 546.3L353.5 661.5L354.1 662.7L354.8 210.8L355.4 210.6L355.8 548.1L356.1 539.9L356.5 547.8L356.9 539.7L357.3 547.5L357.7 539.1L358.1 543.8L358.5 538.0L358.9 540.0L359.2 532.8L359.6 533.5L360.0 529.2L360.4 526.0L360.8 522.0L361.2 521.3L361.6 515.7L362.0 513.8L362.3 508.4L362.7 510.3L363.0 510.3L363.2 655.7L363.8 657.4L364.5 208.6L365.1 208.4L365.4 494.3L365.8 498.7L366.2 492.0L366.6 499.3L367.0 492.7L367.4 496.4L367.8 491.0L368.2 497.5L368.5 490.5L368.9 493.9L369.3 489.2L369.7 494.2L370.1 487.4L370.5 492.7L370.9 488.3L371.3 496.3L371.6 486.2L372.0 494.2L372.4 488.1L372.7 488.1L372.9 641.4L373.5 641.7L374.2 210.7L374.8 212.4L375.1 496.5L375.5 492.6L375.9 502.7L376.3 497.4L376.7 504.7L377.1 500.0L377.5 506.2L377.8 503.4L378.2 510.4L378.6 505.8L379.0 513.7L379.4 513.5L379.8 521.2L380.2 519.1L380.6 528.5L380.9 527.3L381.3 536.4L381.7 535.4L382.1 548.4L382.4 548.4L382.6 655.6L383.2 655.8L383.9 209.1L384.5 210.0L384.8 576.8L385.2 579.0L385.6 578.4L386.0 580.0L386.4 580.1L386.8 585.5L387.1 583.3L387.5 585.7L387.9 581.8L388.3 587.6L388.7 581.4L389.1 589.6L389.5 579.7L389.9 590.2L390.2 582.3L390.6 588.6L391.0 583.7L391.4 585.3L391.8 585.8L392.1 585.8L392.2 678.3L392.9 679.3L393.5 211.6L394.2 210.4L394.5 584.6L394.9 580.8L395.3 586.0L395.7 580.0L396.1 585.3L396.4 581.0L396.8 581.3L397.2 579.9L397.6 582.9L398.0 577.6L398.4 581.9L398.8 578.3L399.2 582.7L399.5 578.0L399.9 582.9L400.3 577.5L400.7 582.8L401.1 580.1L401.5 584.0L401.8 584.0L401.9 683.4L402.6 683.8L403.2 210.2L403.9 209.8L404.2 560.8L404.6 561.5L405.0 553.1L405.4 549.9L405.7 543.7L406.1 547.3L406.5 545.6L406.9 546.9L407.3 544.2L407.7 547.4L408.1 545.6L408.5 549.4L408.8 543.8L409.2 548.0L409.6 545.2L410.0 548.7L410.4 545.4L410.8 550.5L411.2 544.1L411.5 544.1L411.6 657.1L412.3 657.4L412.9 210.1L413.6 209.5L413.9 550.2L414.3 542.0L414.7 548.3L415.0 545.7L415.4 547.4L415.8 545.3L416.2 548.5L416.6 543.0L417.0 548.9L417.4 541.0L417.8 547.3L418.1 542.0L418.5 547.9L418.9 540.3L419.3 548.2L419.7 539.6L420.1 548.1L420.5 540.5L420.9 546.2L421.2 546.2L421.3 659.5L422.0 660.5L422.6 209.7L423.3 210.8L423.6 536.3L424.0 540.1L424.3 536.0L424.7 540.8L425.1 533.2L425.5 532.6L425.9 526.7L426.3 524.9L426.7 518.2L427.1 518.3L427.4 509.7L427.8 505.0L428.2 498.6L428.6 497.5L429.0 491.3L429.4 494.1L429.8 489.3L430.2 496.8L430.5 492.4L430.8 492.4L431.0 653.4L431.6 653.8L432.3 210.0L432.9 210.0L433.3 496.7L433.6 494.3L434.0 497.8L434.4 491.6L434.8 495.7L435.2 488.7L435.6 496.1L436.0 487.9L436.4 492.3L436.7 484.4L437.1 489.9L437.5 482.7L437.9 488.0L438.3 480.5L438.7 487.2L439.1 478.6L439.5 483.5L439.8 477.5L440.2 482.5L440.5 482.5L440.7 641.7L441.3 642.4L442.0 210.1L442.6 210.5L442.9 476.0L443.3 477.5L443.7 474.1L444.1 478.7L444.5 473.3L444.9 478.2L445.3 474.5L445.7 480.2L446.0 476.4L446.4 476.2L446.8 474.5L447.2 481.1L447.6 473.1L448.0 481.6L448.4 475.8L448.8 482.6L449.1 476.9L449.5 481.9L449.9 477.7L450.2 477.7L450.4 638.2L451.0 638.8L451.7 209.1L452.3 210.2L452.6 488.1L453.0 485.5L453.4 490.3L453.8 487.3L454.2 492.1L454.6 490.1L455.0 495.6L455.3 490.3L455.7 498.6L456.1 496.4L456.5 501.9L456.9 498.1L457.3 505.1L457.7 499.5L458.1 506.5L458.4 498.7L458.8 506.7L459.2 497.7L459.6 504.1L459.9 504.1L460.1 636.9L460.7 637.9L461.4 209.4L462.0 209.7L462.3 487.7L462.7 490.1L463.1 487.0L463.5 489.8L463.9 486.2L464.3 488.9L464.6 488.3L465.0 490.3L465.4 486.2L465.8 492.0L466.2 485.4L466.6 491.6L467.0 487.5L467.4 495.0L467.7 487.8L468.1 496.8L468.5 491.1L468.9 497.9L469.3 492.0L469.6 492.0L469.7 639.2L470.4 640.1L471.0 210.0L471.7 210.1L472.0 499.6L472.4 488.9L472.8 495.8L473.2 487.3L473.6 496.2L473.9 485.9L474.3 495.2L474.7 486.2L475.1 492.2L475.5 488.4L475.9 493.2L476.3 486.8L476.7 493.4L477.0 488.1L477.4 491.1L477.8 480.4L478.2 487.5L478.6 479.7L479.0 481.1L479.3 481.1L479.4 641.5L480.1 642.4L480.7 208.9L481.4 208.8L481.7 475.5L482.1 482.3L482.5 477.4L482.9 482.9L483.2 476.2L483.6 487.9L484.0 480.0L484.4 488.4L484.8 482.6L485.2 487.2L485.6 485.2L486.0 490.1L486.3 486.0L486.7 492.9L487.1 489.9L487.5 494.7L487.9 492.5L488.3 497.6L488.7 494.4L489.0 494.4L489.1 636.1L489.8 637.9L490.4 210.4L491.1 210.1L491.4 507.5L491.8 505.3L492.2 511.1L492.5 505.6L492.9 515.7L493.3 510.1L493.7 516.6L494.1 509.9L494.5 522.6L494.9 516.6L495.3 523.5L495.6 516.2L496.0 526.0L496.4 516.4L496.8 525.1L497.2 517.6L497.6 527.5L498.0 515.0L498.4 526.6L498.7 526.6L498.8 654.9L499.5 656.0L500.1 209.6L500.8 207.8L501.1 520.6L501.5 530.0L501.8 519.6L502.2 531.4L502.6 475.1L503.0 529.3L503.4 524.6L503.8 530.8L504.2 526.8L504.6 530.9L504.9 524.8L505.3 532.7L505.7 523.9L506.1 531.5L506.5 527.2L506.9 531.2L507.3 525.3L507.7 532.2L508.0 525.8L508.3 525.8L508.5 656.3L509.1 657.4L509.8 209.7L510.4 210.7L510.8 534.6L511.1 524.0L511.5 534.6L511.9 522.9L512.3 532.4L512.7 522.0L513.1 530.2L513.5 517.0L513.9 530.9L514.2 514.3L514.6 528.8L515.0 516.4L515.4 526.1L515.8 517.6L516.2 526.2L516.6 515.3L517.0 527.0L517.3 517.0L517.7 528.5L518.0 528.5L518.2 646.8L518.8 647.7L519.5 208.8L520.1 207.6L520.4 517.2L520.8 527.6L521.2 515.7L521.6 524.8L522.0 517.7L522.4 526.8L522.8 514.1L523.2 521.7L523.5 512.0L523.9 523.8L524.3 511.4L524.7 519.7L525.1 508.0L525.5 518.9L525.9 510.5L526.3 519.1L526.5 469.5L527.0 512.6L527.4 500.2L527.7 500.2L527.9 636.7L528.5 637.2L529.2 209.3L529.8 208.1L530.1 500.9L530.5 502.1L530.9 503.2L531.3 504.3L531.7 505.5L532.1 506.6L532.5 507.8L532.8 508.9L533.2 510.0L533.6 511.2L534.0 512.3L534.4 513.5L534.8 514.6L535.2 515.8L535.6 516.9L535.9 518.0L536.3 519.2L536.7 520.3L537.1 521.5L537.4 521.5L537.6 639.4L538.2 640.1L538.9 210.8L539.5 209.9L539.8 529.5L540.2 530.6L540.6 531.7L541.0 532.9L541.4 534.0L541.8 535.2L542.1 536.3L542.5 537.5L542.9 538.6L543.3 539.7L543.7 540.9L544.1 542.0L544.5 543.2L544.9 544.3L545.2 545.4L545.6 546.6L546.0 547.7L546.4 548.9L546.8 550.0L547.1 550.0L547.2 666.6L547.9 667.9L548.5 210.9L549.2 210.6L549.5 504.9L549.9 492.6L550.3 502.9L550.7 492.9L551.1 504.4L551.4 492.8L551.8 501.2L552.2 493.9L552.6 501.2L553.0 496.2L553.4 507.4L553.8 494.6L554.2 503.8L554.5 495.6L554.9 506.0L555.3 495.0L555.7 505.3L556.1 491.0L556.5 504.5L556.8 504.5L556.9 636.6L557.6 637.2L558.2 209.9L558.9 209.4L559.2 500.2L559.6 515.4L560.0 499.9L560.4 512.8L560.7 502.9L561.1 511.8L561.5 494.5L561.9 502.7L562.3 486.5L562.7 496.7L563.1 482.7L563.5 484.4L563.8 470.8L564.2 477.4L564.6 462.5L565.0 471.5L565.4 462.0L565.8 470.4L566.2 464.0L566.5 464.0L566.6 644.2L567.3 644.6L567.9 210.9L568.6 209.9L568.9 462.6L569.3 454.9L569.7 463.1L570.0 452.7L570.4 459.5L570.8 454.1L571.2 457.6L571.6 454.3L572.0 457.4L572.4 449.0L572.8 460.5L573.1 451.4L573.5 458.8L573.9 451.4L574.3 458.7L574.7 455.4L575.1 459.7L575.5 454.1L575.9 463.8L576.2 463.8L576.3 636.9L577.0 637.2L577.6 210.5L578.3 211.4L578.6 464.3L579.0 471.4L579.3 462.7L579.7 477.3L580.1 467.0L580.5 478.2L580.9 467.4L581.3 478.9L581.7 470.9L582.1 480.1L582.4 474.9L582.8 483.1L583.2 476.4L583.6 484.9L584.0 480.9L584.4 489.1L584.8 482.8L585.2 490.4L585.5 486.8L585.8 486.8L586.0 637.3L586.6 639.5L587.3 209.2L587.9 210.4L588.3 501.6L588.6 492.8L589.0 497.1L589.4 492.8L589.8 492.2L590.2 486.1L590.6 490.1L591.0 482.7L591.4 488.4L591.7 478.5L592.1 487.3L592.5 478.3L592.9 484.6L593.3 472.9L593.7 486.2L594.1 476.1L594.5 483.0L594.8 473.3L595.2 482.2L595.5 482.2L595.7 640.0L596.3 641.0L597.0 209.2L597.6 209.7L597.9 464.0L598.3 470.8L598.7 462.6L599.1 472.7L599.5 461.0L599.9 469.8L600.3 459.4L600.7 466.4L601.0 455.4L601.4 466.4L601.8 454.3L602.2 462.6L602.6 453.7L603.0 461.5L603.4 449.3L603.8 460.4L604.1 449.9L604.5 455.3L604.9 448.6L605.2 448.6L605.4 636.1L606.0 637.2L606.7 210.5L607.3 211.1L607.6 467.1L608.0 454.4L608.4 464.7L608.8 453.2L609.2 465.6L609.6 454.0L610.0 464.1L610.3 456.2L610.7 466.1L611.1 457.5L611.5 466.0L611.9 449.7L612.3 466.4L612.7 455.6L613.1 469.8L613.4 457.2L613.8 468.1L614.2 452.4L614.6 471.6L614.9 471.6L615.1 636.5L615.7 637.2L616.4 209.9L617.0 209.8L617.3 466.5L617.7 471.9L618.1 467.0L618.5 477.3L618.9 466.0L619.3 480.8L619.6 473.1L620.0 492.0L620.4 479.8L620.8 493.8L621.2 484.4L621.6 496.2L622.0 486.0L622.4 494.7L622.7 488.4L623.1 499.0L623.5 485.5L623.9 498.0L624.3 488.3L624.6 488.3L624.7 637.0L625.4 637.2L626.0 209.1L626.7 210.1L627.0 496.6L627.4 485.3L627.8 499.1L628.2 485.1L628.6 492.8L628.9 486.1L629.3 497.2L629.7 484.1L630.1 496.2L630.5 485.8L630.9 498.8L631.3 485.1L631.7 496.5L632.0 480.4L632.4 492.2L632.8 485.1L633.2 496.6L633.6 483.8L634.0 493.1L634.3 493.1L634.4 641.1L635.1 642.4L635.7 208.5L636.4 209.1L636.7 486.1L637.1 492.0L637.5 483.6L637.9 494.7L638.2 478.0L638.6 494.8L639.0 484.2L639.4 496.1L639.8 482.0L640.2 495.4L640.6 480.7L641.0 491.9L641.3 482.8L641.7 490.4L642.1 483.0L642.5 488.9L642.9 482.2L643.3 486.9L643.7 481.4L644.0 481.4L644.1 636.7L644.8 637.2L645.4 208.1L646.1 208.0L646.4 484.5L646.8 479.4L647.2 484.6L647.5 480.4L647.9 487.2L648.3 479.9L648.7 488.4L649.1 481.2L649.5 487.2L649.9 480.0L650.3 490.8L650.6 484.4L651.0 488.1L651.4 480.6L651.8 488.9L652.2 482.5L652.6 489.5L653.0 483.8L653.4 492.9L653.7 492.9L653.8 637.0L654.5 639.7L655.1 208.0L655.8 209.4L656.1 486.1L656.5 497.4L656.8 483.2L657.2 501.0L657.6 480.7L658.0 497.0L658.4 485.5L658.8 496.3L659.2 481.9L659.6 497.0L659.9 484.6L660.3 493.4L660.7 487.9L661.1 494.1L661.5 488.2L661.9 495.7L662.3 488.7L662.7 494.9L663.0 488.1L663.3 488.1L663.5 639.5L664.1 639.7L664.8 209.3L665.4 210.1L665.8 495.7L666.1 486.1L666.5 492.2L666.9 483.7L667.3 495.9L667.7 486.3L668.1 493.8L668.5 485.6L668.9 496.8L669.2 485.6L669.6 493.3L670.0 484.8L670.4 492.8L670.8 488.3L671.2 493.7L671.6 490.5L672.0 496.1L672.3 490.7L672.7 496.5L673.0 496.5L673.2 634.9L673.8 635.4L674.5 208.4L675.1 209.5L675.4 494.1L675.8 495.5L676.2 486.8L676.6 498.1L677.0 487.2L677.4 494.2L677.8 488.2L678.2 492.2L678.5 488.7L678.9 492.7L679.3 483.1L679.7 493.2L680.1 481.6L680.5 485.5L680.9 478.4L681.3 489.2L681.6 478.3L682.0 487.0L682.4 477.3L682.7 477.3L682.9 633.4L683.5 634.3L684.2 210.8L684.8 209.2L685.1 479.4L685.5 465.6L685.9 476.5L686.3 464.4L686.7 478.2L687.1 462.8L687.5 475.1L687.8 465.2L688.2 475.6L688.6 467.5L689.0 476.2L689.4 470.6L689.8 479.6L690.2 471.9L690.6 477.3L690.9 470.8L691.3 481.0L691.7 473.4L692.1 481.8L692.4 481.8L692.6 635.8L693.2 636.1L693.9 212.2L694.5 212.6L694.8 479.5L695.2 491.8L695.6 482.3L696.0 491.3L696.4 484.8L696.8 492.0L697.1 484.6L697.5 494.1L697.9 480.5L698.3 494.4L698.7 488.0L699.1 497.3L699.5 485.9L699.9 495.6L700.2 484.9L700.6 489.6L701.0 480.9L701.4 485.4L701.8 479.5L702.1 479.5L702.2 636.2L702.9 636.3L703.5 212.0L704.2 213.3L704.5 479.1L704.9 471.4L705.3 476.5L705.7 469.6L706.1 480.0L706.4 475.3L706.8 485.3L707.2 475.4L707.6 485.5L708.0 475.0L708.4 488.3L708.8 480.0L709.2 491.4L709.5 483.6L709.9 490.6L710.3 488.2L710.7 492.5L711.1 486.7L711.5 495.4L711.8 495.4L711.9 640.4L712.6 642.2L713.2 210.6L713.9 210.2L714.2 492.9L714.6 505.3L715.0 493.3L715.4 502.6L715.7 495.2L716.1 505.4L716.5 495.1L716.9 506.7L717.3 495.3L717.7 506.9L718.1 493.2L718.5 506.4L718.8 498.8L719.2 507.4L719.6 497.4L720.0 511.8L720.4 496.1L720.8 506.7L721.2 498.2L721.5 498.2L721.6 636.6L722.3 637.2L722.9 209.2L723.6 208.9L723.9 503.7L724.3 490.3L724.7 505.9L725.0 493.7L725.4 504.7L725.8 492.5L726.2 502.7L726.6 493.5L727.0 504.3L727.4 492.3L727.8 502.2L728.1 492.8L728.5 500.7L728.9 492.4L729.3 498.8L729.7 490.1L730.1 495.8L730.5 488.2L730.9 498.7L731.2 498.7L731.3 636.2L732.0 637.5L732.6 209.0L733.3 209.3L733.6 484.1L734.0 495.0L734.3 485.2L734.7 491.0L735.1 484.3L735.5 488.7L735.9 480.1L736.3 486.7L736.7 478.1L737.1 485.7L737.4 479.8L737.8 483.0L738.2 478.2L738.6 479.4L739.0 474.2L739.4 482.0L739.8 469.4L740.2 483.7L740.5 475.5L740.8 475.5L741.0 635.6L741.6 636.3L742.3 209.1L742.9 209.5L743.3 490.8L743.6 483.6L744.0 493.5L744.4 480.8L744.8 495.2L745.2 484.4L745.6 498.6L746.0 487.8L746.4 500.4L746.7 489.7L747.1 498.7L747.5 492.5L747.9 499.3L748.3 490.0L748.7 503.6L749.1 491.2L749.5 504.3L749.8 490.6L750.2 507.4L750.5 507.4L750.7 635.7L751.3 637.5L752.0 208.7L752.6 209.2L752.9 502.5L753.3 515.6L753.7 508.9L754.1 514.1L754.5 507.5L754.9 520.1L755.3 513.3L755.7 520.7L756.0 512.4L756.4 521.2L756.8 516.1L757.2 523.5L757.6 515.8L758.0 524.6L758.4 516.9L758.8 528.2L759.1 522.3L759.5 534.2L759.9 523.3L760.2 523.3L760.4 649.1L761.0 649.8L761.7 210.9L762.3 210.7L762.6 507.2L763.0 491.7L763.4 498.2L763.8 491.9L764.2 497.0L764.6 488.3L765.0 495.9L765.3 486.3L765.7 496.9L766.1 487.3L766.5 496.6L766.9 484.5L767.3 493.7L767.7 483.4L768.1 493.2L768.4 482.6L768.8 493.4L769.2 482.0L769.6 489.7L769.9 489.7L770.1 636.5L770.7 637.2L771.4 210.8L772.0 210.3L772.3 479.0L772.7 492.3L773.1 482.7L773.5 491.9L773.9 482.1L774.3 490.3L774.6 484.6L775.0 488.6L775.4 483.9L775.8 491.4L776.2 486.4L776.6 489.4L777.0 485.4L777.4 491.4L777.7 486.1L778.1 491.7L778.5 485.8L778.9 494.5L779.3 487.6L779.6 487.6L779.7 634.0L780.4 637.2L781.0 210.0L781.7 208.7L782.0 489.2L782.4 478.9L782.8 489.6L783.2 482.1L783.6 490.2L783.9 480.5L784.3 487.8L784.7 478.0L785.1 488.2L785.5 478.4L785.9 486.3L786.3 475.0L786.7 488.7L787.0 473.8L787.4 486.1L787.8 476.7L788.2 482.9L788.6 474.9L789.0 481.3L789.3 481.3L789.4 636.1L790.1 637.2L790.7 209.2L791.4 206.5L791.7 474.3L792.1 485.5L792.5 472.2L792.9 483.6L793.2 471.6L793.6 479.2L794.0 471.7L794.4 482.0L794.8 470.1L795.2 480.2L795.6 473.2L796.0 479.9L796.3 471.2L796.7 477.6L797.1 469.7L797.5 477.6L797.9 467.2L798.3 477.1L798.7 469.4L799.0 469.4L799.1 636.5L799.8 637.2L800.4 208.8L801.1 208.5L801.4 467.7L801.8 462.2L802.2 472.3L802.5 460.5L802.9 471.1L803.3 458.9L803.7 469.4L804.1 453.6L804.5 466.5L804.9 453.0L805.3 466.0L805.6 450.8L806.0 462.8L806.4 450.2L806.8 458.5L807.2 443.9L807.6 452.1L808.0 448.9L808.4 455.8L808.7 455.8L808.8 636.7L809.5 637.2L810.1 210.0L810.8 209.7L811.1 460.0L811.5 478.3L811.8 463.5L812.2 479.6L812.6 470.9L813.0 479.9L813.4 470.1L813.8 479.1L814.2 470.5L814.6 481.3L814.9 473.1L815.3 480.1L815.7 473.0L816.1 479.1L816.5 473.2L816.9 477.5L817.3 468.6L817.7 480.2L818.0 471.0L818.3 471.0L818.5 637.2L819.1 637.2L819.8 209.8L820.4 210.2L820.8 477.7L821.1 467.9L821.5 475.4L821.9 468.3L822.3 473.4L822.7 468.6L823.1 474.4L823.5 467.7L823.9 474.7L824.2 467.7L824.6 468.8L825.0 464.8L825.4 467.1L825.8 460.0L826.2 465.1L826.6 456.9L827.0 463.0L827.3 452.6L827.7 461.8L828.1 449.4" fill="none" stroke="#ff0000" stroke-width="2.08" stroke-linejoin="round" stroke-linecap="butt"/><rect x="150.5" y="96.5" width="930" height="616" fill="none" stroke="#000" stroke-width="1.11" stroke-linejoin="miter"/><path d="M150.5 712v5.4M266.5 712v5.4M383.5 712v5.4M499.5 712v5.4M615.5 712v5.4M731.5 712v5.4M848.5 712v5.4M964.5 712v5.4M1080.5 712v5.4M150 684.5h-4.9M150 572.5h-4.9M150 461.5h-4.9M150 349.5h-4.9M150 237.5h-4.9M150 125.5h-4.9" stroke="#000" stroke-width="1.11" fill="none"/><text x="150.50" y="739.6" text-anchor="middle" font-size="23.4" textLength="13.9" lengthAdjust="spacingAndGlyphs">0</text><text x="266.75" y="739.6" text-anchor="middle" font-size="23.4" textLength="13.9" lengthAdjust="spacingAndGlyphs">3</text><text x="383.00" y="739.6" text-anchor="middle" font-size="23.4" textLength="13.9" lengthAdjust="spacingAndGlyphs">6</text><text x="499.25" y="739.6" text-anchor="middle" font-size="23.4" textLength="13.9" lengthAdjust="spacingAndGlyphs">9</text><text x="615.50" y="739.6" text-anchor="middle" font-size="23.4" textLength="27.8" lengthAdjust="spacingAndGlyphs">12</text><text x="731.75" y="739.6" text-anchor="middle" font-size="23.4" textLength="27.8" lengthAdjust="spacingAndGlyphs">15</text><text x="848.00" y="739.6" text-anchor="middle" font-size="23.4" textLength="27.8" lengthAdjust="spacingAndGlyphs">18</text><text x="964.25" y="739.6" text-anchor="middle" font-size="23.4" textLength="27.8" lengthAdjust="spacingAndGlyphs">21</text><text x="1080.50" y="739.6" text-anchor="middle" font-size="23.4" textLength="27.8" lengthAdjust="spacingAndGlyphs">24</text><text x="141" y="692.80" text-anchor="end" font-size="23.4" textLength="13.9" lengthAdjust="spacingAndGlyphs">0</text><text x="141" y="580.98" text-anchor="end" font-size="23.4" textLength="13.9" lengthAdjust="spacingAndGlyphs">5</text><text x="141" y="469.16" text-anchor="end" font-size="23.4" textLength="27.8" lengthAdjust="spacingAndGlyphs">10</text><text x="141" y="357.34" text-anchor="end" font-size="23.4" textLength="27.8" lengthAdjust="spacingAndGlyphs">15</text><text x="141" y="245.52" text-anchor="end" font-size="23.4" textLength="27.8" lengthAdjust="spacingAndGlyphs">20</text><text x="141" y="133.70" text-anchor="end" font-size="23.4" textLength="27.8" lengthAdjust="spacingAndGlyphs">25</text><text x="401.01" y="89" font-size="23.3" textLength="49.10" lengthAdjust="spacingAndGlyphs">MRO</text><text x="455.76" y="89" font-size="23.3" textLength="20.31" lengthAdjust="spacingAndGlyphs">of</text><text x="482.20" y="89" font-size="23.3" textLength="120.53" lengthAdjust="spacingAndGlyphs">2025/04/06</text><text x="610.90" y="89" font-size="23.3" textLength="42.89" lengthAdjust="spacingAndGlyphs">with</text><text x="660.05" y="89" font-size="23.3" textLength="56.18" lengthAdjust="spacingAndGlyphs">focus</text><text x="721.81" y="89" font-size="23.3" textLength="50.61" lengthAdjust="spacingAndGlyphs">code</text><text x="779.18" y="89" font-size="23.3" textLength="16.62" lengthAdjust="spacingAndGlyphs">=</text><text x="802.41" y="89" font-size="23.3" textLength="26.43" lengthAdjust="spacingAndGlyphs">62</text><text x="518.36" y="766.9" font-size="23.3" textLength="99.06" lengthAdjust="spacingAndGlyphs">Universal</text><text x="622.78" y="766.9" font-size="23.3" textLength="50.71" lengthAdjust="spacingAndGlyphs">Time</text><text x="680.52" y="766.9" font-size="23.3" textLength="30.38" lengthAdjust="spacingAndGlyphs">[h]</text><g transform="translate(101.2 0) rotate(-90)"><text x="-471.23" y="0" font-size="23.0" textLength="80.57" lengthAdjust="spacingAndGlyphs">Y-factor</text><text x="-384.08" y="0" font-size="23.0" textLength="43.74" lengthAdjust="spacingAndGlyphs">[dB]</text></g><rect x="918.8" y="104.5" width="153.6" height="75" rx="3.9" fill="#fff" fill-opacity="0.8" stroke="#cccccc" stroke-opacity="0.8" stroke-width="1.11"/><path d="M923 116.80H959.1" stroke="#0000ff" stroke-width="2.08"/><text x="981.40" y="123.1" font-size="17.4" textLength="36.83" lengthAdjust="spacingAndGlyphs">25.6</text><text x="1023.44" y="123.1" font-size="17.4" textLength="36.45" lengthAdjust="spacingAndGlyphs">MHz</text><path d="M923 140.60H959.1" stroke="#008000" stroke-width="2.08"/><text x="981.60" y="146.1" font-size="17.4" textLength="36.36" lengthAdjust="spacingAndGlyphs">50.2</text><text x="1023.44" y="146.1" font-size="17.4" textLength="36.45" lengthAdjust="spacingAndGlyphs">MHz</text><path d="M923 163.90H959.1" stroke="#ff0000" stroke-width="2.08"/><text x="981.92" y="170.0" font-size="17.4" textLength="36.42" lengthAdjust="spacingAndGlyphs">74.4</text><text x="1023.44" y="170.0" font-size="17.4" textLength="36.45" lengthAdjust="spacingAndGlyphs">MHz</text></svg></body></html>
